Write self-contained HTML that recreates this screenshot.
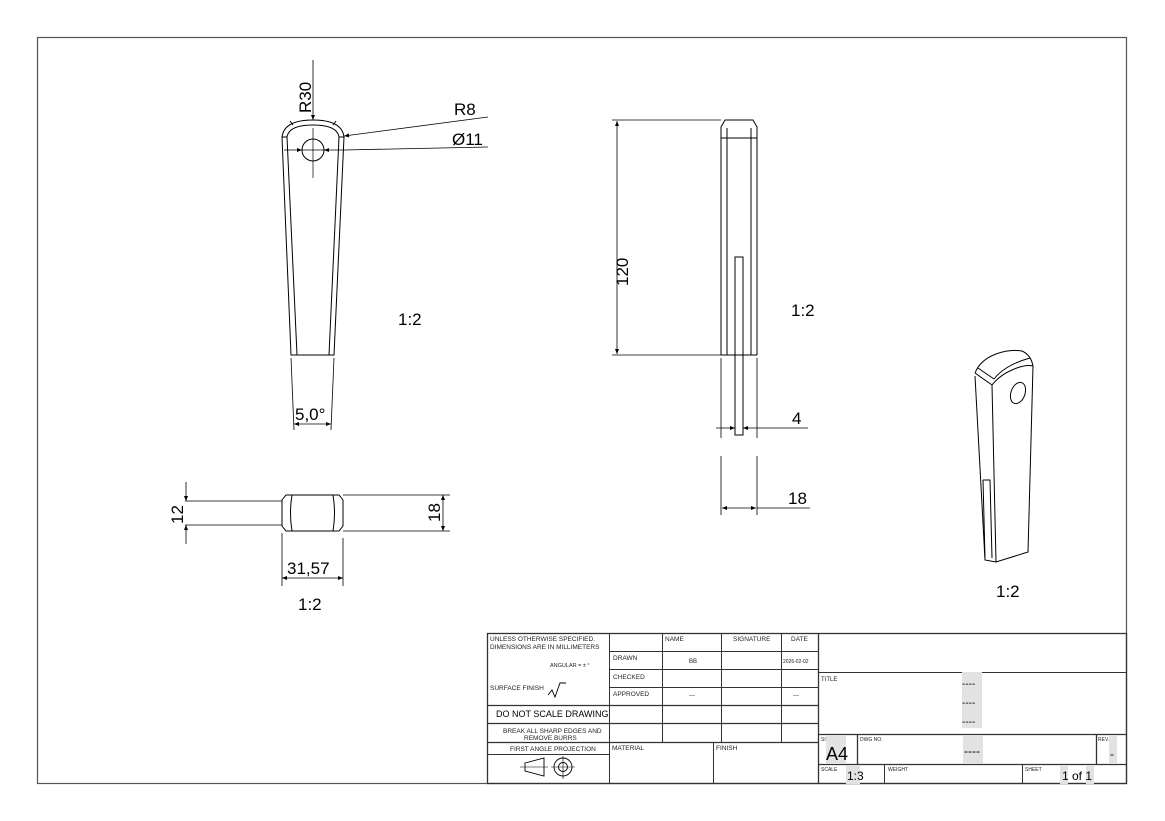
<!DOCTYPE html>
<html><head><meta charset="utf-8"><style>
html,body{margin:0;padding:0;background:#fff;}
svg{display:block;font-family:"Liberation Sans",sans-serif;}
</style></head><body>
<svg width="1165" height="821" viewBox="0 0 1165 821" xmlns="http://www.w3.org/2000/svg">
<defs>
<marker id="a" viewBox="0 0 10 10" refX="10" refY="5" markerWidth="8" markerHeight="5" orient="auto-start-reverse" markerUnits="userSpaceOnUse"><path d="M0,1 L10,5 L0,9 z" fill="#000"/></marker>
</defs>
<rect x="0" y="0" width="1165" height="821" fill="#fff"/>
<rect x="37.5" y="37.5" width="1089" height="746" fill="none" stroke="#555" stroke-width="1.2"/>
<g fill="none" stroke="#000" stroke-width="1">
<!-- front view -->
<path d="M291,355 L282,137 Q284,120 313,120 Q342,120 344,137 L334,355 Z"/>
<path d="M297,355 L287,137 Q289,125 313,125 Q337,125 339,137 L329,355"/>
<line x1="282" y1="137" x2="287" y2="137"/><line x1="339" y1="137" x2="344" y2="137"/>
<line x1="293" y1="125" x2="290" y2="121"/><line x1="333" y1="125" x2="336" y2="121"/>
<circle cx="313" cy="150" r="11"/>
<line x1="313" y1="128" x2="313" y2="178" stroke-width="0.7"/>
<line x1="298" y1="150" x2="328" y2="150" stroke-width="0.7"/>
<line x1="313" y1="60" x2="313" y2="120" marker-end="url(#a)" stroke-width="0.8"/>
<line x1="488" y1="117" x2="344" y2="136" marker-end="url(#a)" stroke-width="0.8"/>
<line x1="488" y1="147" x2="344" y2="150" stroke-width="0.8"/>
<line x1="284" y1="150" x2="302" y2="150" marker-end="url(#a)" stroke-width="0.8"/>
<line x1="344" y1="150" x2="324" y2="150" marker-end="url(#a)" stroke-width="0.8"/>
<line x1="291" y1="358" x2="294" y2="430" stroke-width="0.8"/>
<line x1="334" y1="358" x2="331" y2="430" stroke-width="0.8"/>
<line x1="294" y1="424" x2="331" y2="424" marker-start="url(#a)" marker-end="url(#a)" stroke-width="0.8"/>
<!-- bottom view -->
<path d="M286,495 L339,495 L343,500 L343,526 L339,531 L286,531 L282,526 L282,500 Z"/>
<path d="M292,495 Q289,513 292,531 M333,495 Q336,513 333,531"/>
<line x1="185" y1="501" x2="282" y2="501" stroke-width="0.8"/>
<line x1="185" y1="525" x2="282" y2="525" stroke-width="0.8"/>
<line x1="343" y1="495" x2="450" y2="495" stroke-width="0.8"/>
<line x1="343" y1="531" x2="450" y2="531" stroke-width="0.8"/>
<line x1="186" y1="482" x2="186" y2="501" marker-end="url(#a)" stroke-width="0.8"/>
<line x1="186" y1="544" x2="186" y2="525" marker-end="url(#a)" stroke-width="0.8"/>
<line x1="443" y1="495" x2="443" y2="531" marker-start="url(#a)" marker-end="url(#a)" stroke-width="0.8"/>
<line x1="282" y1="533" x2="282" y2="586" stroke-width="0.8"/>
<line x1="343" y1="538" x2="343" y2="586" stroke-width="0.8"/>
<line x1="282" y1="578" x2="343" y2="578" marker-start="url(#a)" marker-end="url(#a)" stroke-width="0.8"/>
<!-- side view -->
<path d="M721,355 L721,127 L725,120 L753,120 L757,127 L757,355"/>
<line x1="727" y1="128" x2="727" y2="355"/><line x1="751" y1="128" x2="751" y2="355"/>
<line x1="721" y1="138" x2="757" y2="138"/>
<line x1="721" y1="355" x2="757" y2="355"/>
<rect x="735" y="257" width="8" height="178"/>
<line x1="612" y1="120" x2="721" y2="120" stroke-width="0.8"/>
<line x1="612" y1="355" x2="721" y2="355" stroke-width="0.8"/>
<line x1="617" y1="121" x2="617" y2="354" marker-start="url(#a)" marker-end="url(#a)" stroke-width="0.8"/>
<line x1="721" y1="358" x2="721" y2="438" stroke-width="0.8"/>
<line x1="757" y1="358" x2="757" y2="438" stroke-width="0.8"/>
<line x1="716" y1="428" x2="735" y2="428" marker-end="url(#a)" stroke-width="0.8"/>
<line x1="808" y1="428" x2="743" y2="428" marker-end="url(#a)" stroke-width="0.8"/>
<line x1="721" y1="456" x2="721" y2="515" stroke-width="0.8"/>
<line x1="757" y1="456" x2="757" y2="515" stroke-width="0.8"/>
<line x1="722" y1="508" x2="756" y2="508" marker-start="url(#a)" marker-end="url(#a)" stroke-width="0.8"/>
<line x1="757" y1="508" x2="810" y2="508" stroke-width="0.8"/>
<!-- iso view -->
<path d="M975,373 Q980,360 996,354 Q1010,349 1022,351 Q1031,355 1033,366 L1028,552 L996,562 L985,560 L975,376"/>
<path d="M975,373 L992,385 Q1000,375 1012,370 Q1025,364 1033,366"/>
<path d="M978,368 L994,379 M994,379 Q1005,365 1030,358"/>
<path d="M992,385 L996,562"/>
<path d="M983,480 L990,480 L992,558 M983,480 L985,558"/>
<ellipse cx="1018" cy="393" rx="7" ry="11" transform="rotate(20 1018 393)"/>
<!-- title block -->
<g stroke="#333">
<rect x="487.5" y="633.5" width="639" height="150" stroke-width="1.3"/>
<line x1="609.5" y1="633" x2="609.5" y2="784"/>
<line x1="662.5" y1="633" x2="662.5" y2="742"/>
<line x1="721.5" y1="633" x2="721.5" y2="742"/>
<line x1="781.5" y1="633" x2="781.5" y2="742"/>
<line x1="818.5" y1="633" x2="818.5" y2="784" stroke-width="1.3"/>
<line x1="713.5" y1="742" x2="713.5" y2="784"/>
<line x1="609" y1="651.5" x2="818" y2="651.5"/>
<line x1="609" y1="669.5" x2="818" y2="669.5"/>
<line x1="609" y1="687.5" x2="818" y2="687.5"/>
<line x1="487" y1="705.5" x2="818" y2="705.5" stroke-width="1.3"/>
<line x1="487" y1="723.5" x2="818" y2="723.5" stroke-width="1.3"/>
<line x1="487" y1="742.5" x2="818" y2="742.5" stroke-width="1.3"/>
<line x1="487" y1="754.5" x2="609" y2="754.5"/>
<line x1="818" y1="672.5" x2="1127" y2="672.5"/>
<line x1="818" y1="734.5" x2="1127" y2="734.5" stroke-width="1.3"/>
<line x1="818" y1="764.5" x2="1127" y2="764.5" stroke-width="1.3"/>
<line x1="857.5" y1="734" x2="857.5" y2="764" stroke-width="1.3"/>
<line x1="1096.5" y1="734" x2="1096.5" y2="764" stroke-width="1.3"/>
<line x1="884.5" y1="764" x2="884.5" y2="784"/>
<line x1="1022.5" y1="764" x2="1022.5" y2="784"/>
</g>
<!-- projection symbol -->
<path d="M525,763 L544,758 L544,776 L525,771 Z" stroke-width="0.9"/>
<line x1="520" y1="767" x2="548" y2="767" stroke-width="0.6"/>
<circle cx="563" cy="767" r="9" stroke-width="0.9"/><circle cx="563" cy="767" r="4.5" stroke-width="0.9"/>
<line x1="551" y1="767" x2="575" y2="767" stroke-width="0.6"/><line x1="563" y1="756" x2="563" y2="779" stroke-width="0.6"/>
<path d="M548,695 L552,690 L555,697 L560,683 L566,683" stroke-width="0.9"/>
</g>
<g fill="#e2e2e2">
<rect x="962" y="672" width="20" height="56"/><rect x="963" y="735" width="20" height="29"/>
<rect x="1109" y="736" width="8" height="27"/><rect x="826" y="736" width="20" height="27"/>
<rect x="846" y="765" width="14" height="19"/><rect x="1060" y="765" width="8" height="19"/><rect x="1086" y="765" width="8" height="19"/>
</g>
<g fill="#000">
<text x="311" y="113" font-size="17" transform="rotate(-90 311 113)">R30</text>
<text x="454" y="115" font-size="17">R8</text>
<text x="452" y="145" font-size="17">Ø11</text>
<text x="398" y="325" font-size="17">1:2</text>
<text x="295" y="420" font-size="17">5,0°</text>
<text x="183" y="524" font-size="17" transform="rotate(-90 183 524)">12</text>
<text x="440" y="522" font-size="17" transform="rotate(-90 440 522)">18</text>
<text x="287" y="574" font-size="17">31,57</text>
<text x="298" y="610" font-size="17">1:2</text>
<text x="628" y="286" font-size="17" transform="rotate(-90 628 286)">120</text>
<text x="791" y="316" font-size="17">1:2</text>
<text x="792" y="424" font-size="17">4</text>
<text x="788" y="504" font-size="17">18</text>
<text x="996" y="597" font-size="17">1:2</text>
<g font-size="6.5" fill="#222">
<text x="490" y="641">UNLESS OTHERWISE SPECIFIED.</text>
<text x="490" y="649">DIMENSIONS ARE IN MILLIMETERS</text>
<text x="550" y="667" font-size="5.5">ANGULAR = ± °</text>
<text x="490" y="690">SURFACE FINISH</text>
<text x="613" y="660">DRAWN</text>
<text x="613" y="679">CHECKED</text>
<text x="613" y="696">APPROVED</text>
<text x="665" y="641">NAME</text><text x="733" y="641">SIGNATURE</text><text x="791" y="641">DATE</text>
<text x="689" y="663" font-size="6">BB</text><text x="783" y="663" font-size="5">2026-02-02</text>
<text x="689" y="697" font-size="6">---</text><text x="793" y="697" font-size="6">---</text>
<text x="503" y="733">BREAK ALL SHARP EDGES AND</text>
<text x="524" y="740">REMOVE BURRS</text>
<text x="510" y="751">FIRST ANGLE PROJECTION</text>
<text x="612" y="750">MATERIAL</text><text x="716" y="750">FINISH</text>
<text x="821" y="681" font-size="6">TITLE</text>
<text x="821" y="741" font-size="5">SI</text>
<text x="860" y="741" font-size="5">DWG NO.</text>
<text x="1098" y="741" font-size="5">REV.</text>
<text x="821" y="771" font-size="5">SCALE</text>
<text x="888" y="771" font-size="5">WEIGHT</text>
<text x="1025" y="771" font-size="5">SHEET</text>
</g>
<text x="496" y="717" font-size="9">DO NOT SCALE DRAWING</text>
<text x="962" y="687" font-size="10">----</text>
<text x="962" y="706" font-size="10">----</text>
<text x="962" y="725" font-size="10">----</text>
<text x="964" y="755" font-size="12">----</text>
<text x="1110" y="758" font-size="12">-</text>
<text x="826" y="760" font-size="18">A4</text>
<text x="847" y="780" font-size="12">1:3</text>
<text x="1062" y="780" font-size="12">1 of 1</text>
</g>
</svg>
</body></html>
